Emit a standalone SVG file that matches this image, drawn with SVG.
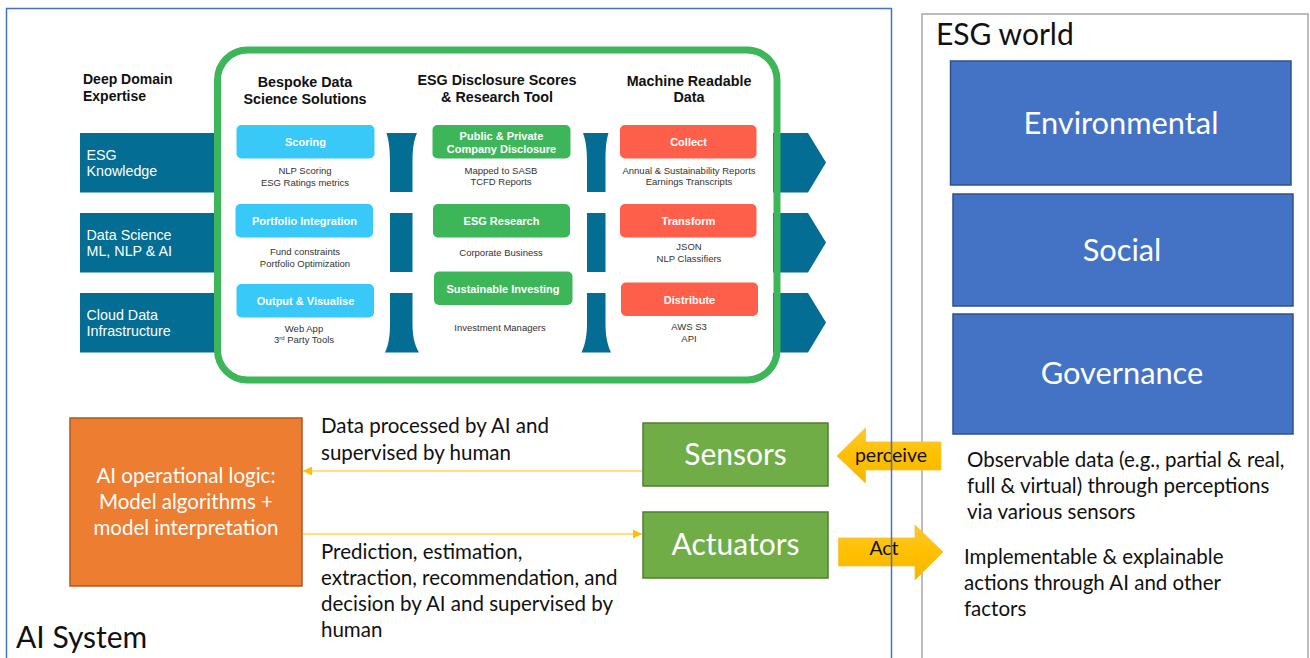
<svg xmlns="http://www.w3.org/2000/svg" width="1310" height="658" viewBox="0 0 1310 658">
<style>
.c{font-family:Lato,"Open Sans",sans-serif}
.a{font-family:"Liberation Sans",Arial,sans-serif}
.hd{font-size:14.3px;font-weight:bold;fill:#111;text-anchor:middle}
.bt{font-size:11px;font-weight:bold;fill:#fff;text-anchor:middle}
.st{font-size:9.5px;fill:#333;text-anchor:middle}
.bl{font-size:14.3px;fill:#fff}
.band{fill:#036D93}
.cy{fill:#38C9F8}
.gr{fill:#3DB65A}
.rd{fill:#FE5F4B}
.esg{fill:#4472C4;stroke:#2F528F;stroke-width:1.5}
.esgt{font-size:30.8px;fill:#fff;text-anchor:middle}
.body{font-size:20.5px;fill:#111}
.conn{stroke:#FFC000;stroke-width:1.2;fill:none}
</style>
<defs>
<marker id="ah" viewBox="0 0 10 10" refX="10" refY="5" markerWidth="9" markerHeight="9" markerUnits="userSpaceOnUse" orient="auto">
<path d="M0,0 L10,5 L0,10 Z" fill="#FFC000"/>
</marker>
<linearGradient id="yg" x1="0" y1="0" x2="0" y2="1">
<stop offset="0" stop-color="#FFC72C"/>
<stop offset="0.5" stop-color="#FFC000"/>
<stop offset="1" stop-color="#F2B600"/>
</linearGradient>
</defs>
<rect width="1310" height="658" fill="#fff"/>

<!-- ESG world frame -->
<g id="esg-world">
<rect x="922" y="14" width="386" height="660" fill="#fff" stroke="#A6A6A6" stroke-width="1.5"/>
<text class="c" x="936" y="45" font-size="30" fill="#111">ESG world</text>
</g>
<g id="environmental">
<rect class="esg" x="950.5" y="61" width="340.5" height="124"/>
<text class="c esgt" x="1121" y="134">Environmental</text>
</g>
<g id="social">
<rect class="esg" x="953" y="194" width="340" height="112"/>
<text class="c esgt" x="1122" y="261">Social</text>
</g>
<g id="governance">
<rect class="esg" x="953" y="314" width="340" height="120"/>
<text class="c esgt" x="1122" y="384">Governance</text>
</g>
<g id="observable-text">
<text class="c body" x="967" y="467">Observable data (e.g., partial &amp; real,</text>
<text class="c body" x="967" y="493">full &amp; virtual) through perceptions</text>
<text class="c body" x="967" y="519">via various sensors</text>
</g>
<g id="implementable-text">
<text class="c body" x="964" y="564">Implementable &amp; explainable</text>
<text class="c body" x="964" y="590">actions through AI and other</text>
<text class="c body" x="964" y="616">factors</text>
</g>

<!-- Top pipeline graphic -->
<g id="domain-bands">
<rect class="band" x="80" y="133" width="140" height="59.5"/>
<rect class="band" x="80" y="213" width="140" height="59.5"/>
<rect class="band" x="80" y="293" width="140" height="59.5"/>
<text class="a" x="83" y="84" font-size="14" font-weight="bold" fill="#111">Deep Domain</text>
<text class="a" x="83" y="101" font-size="14" font-weight="bold" fill="#111">Expertise</text>
<text class="a bl" x="86.5" y="159.5">ESG</text>
<text class="a bl" x="86.5" y="176">Knowledge</text>
<text class="a bl" x="86.5" y="239.5">Data Science</text>
<text class="a bl" x="86.5" y="256">ML, NLP &amp; AI</text>
<text class="a bl" x="86.5" y="319.5">Cloud Data</text>
<text class="a bl" x="86.5" y="336">Infrastructure</text>
</g>
<g id="output-chevrons">
<path class="band" d="M773,133 H808 L826,162.5 L808,192.5 H773 Z"/>
<path class="band" d="M773,213 H808 L826,242.5 L808,272.5 H773 Z"/>
<path class="band" d="M773,293 H808 L826,322.5 L808,352.5 H773 Z"/>
</g>
<g id="connector-1">
<path class="band" d="M386.5,133 H417 C413.5,141 412.5,150 412.5,162 V192 H390 V162 C390,150 389,141 386.5,133 Z"/>
<rect class="band" x="390" y="213" width="22.5" height="59"/>
<path class="band" d="M390,293 H412.5 V323 C412.5,335 414,344 419,352.5 H385 C389,344 390,335 390,323 Z"/>
</g>
<g id="connector-2">
<path class="band" d="M583,133 H608.5 C606,141 605.5,150 605.5,162 V192 H587 V162 C587,150 586,141 583,133 Z"/>
<rect class="band" x="587" y="213" width="18.5" height="59"/>
<path class="band" d="M587,293 H605.5 V323 C605.5,335 607,344 611,352.5 H581.5 C585.5,344 587,335 587,323 Z"/>
</g>
<g id="green-frame">
<rect x="217.5" y="50" width="559.5" height="330" rx="30" fill="none" stroke="#3DB65A" stroke-width="7"/>
</g>
<g id="col-bespoke">
<text class="a hd" x="305" y="87">Bespoke Data</text>
<text class="a hd" x="305" y="103.5">Science Solutions</text>
</g>
<g id="col-disclosure">
<text class="a hd" x="497" y="85">ESG Disclosure Scores</text>
<text class="a hd" x="497" y="101.5">&amp; Research Tool</text>
</g>
<g id="col-machine">
<text class="a hd" x="689" y="85.5">Machine Readable</text>
<text class="a hd" x="689" y="102">Data</text>
</g>
<g id="scoring">
<rect class="cy" x="236.5" y="125" width="138" height="33.5" rx="5"/>
<text class="a bt" x="305.5" y="146">Scoring</text>
<text class="a st" x="305" y="174">NLP Scoring</text>
<text class="a st" x="305" y="185.5">ESG Ratings metrics</text>
</g>
<g id="portfolio-integration">
<rect class="cy" x="235.5" y="204" width="137.5" height="33.5" rx="5"/>
<text class="a bt" x="304.5" y="225">Portfolio Integration</text>
<text class="a st" x="305" y="255">Fund constraints</text>
<text class="a st" x="305" y="266.5">Portfolio Optimization</text>
</g>
<g id="output-visualise">
<rect class="cy" x="236.5" y="284" width="137.5" height="33.5" rx="5"/>
<text class="a bt" x="305.5" y="305">Output &amp; Visualise</text>
<text class="a st" x="304" y="331.5">Web App</text>
<text class="a st" x="304" y="343">3<tspan font-size="6" dy="-3.5">rd</tspan><tspan dy="3.5"> Party Tools</tspan></text>
</g>
<g id="public-private">
<rect class="gr" x="432.5" y="125" width="138" height="33.5" rx="5"/>
<text class="a bt" x="501.5" y="139.5">Public &amp; Private</text>
<text class="a bt" x="501.5" y="152.5">Company Disclosure</text>
<text class="a st" x="501" y="173.5">Mapped to SASB</text>
<text class="a st" x="501" y="185">TCFD Reports</text>
</g>
<g id="esg-research">
<rect class="gr" x="433" y="204" width="137" height="33.5" rx="5"/>
<text class="a bt" x="501.5" y="225">ESG Research</text>
<text class="a st" x="501" y="256">Corporate Business</text>
</g>
<g id="sustainable-investing">
<rect class="gr" x="434" y="271.5" width="138.5" height="33.5" rx="5"/>
<text class="a bt" x="503" y="292.5">Sustainable Investing</text>
<text class="a st" x="500" y="331">Investment Managers</text>
</g>
<g id="collect">
<rect class="rd" x="620" y="125" width="136.5" height="33.5" rx="5"/>
<text class="a bt" x="688.5" y="146">Collect</text>
<text class="a st" x="689" y="173.5">Annual &amp; Sustainability Reports</text>
<text class="a st" x="689" y="185">Earnings Transcripts</text>
</g>
<g id="transform">
<rect class="rd" x="620" y="204" width="136.5" height="33.5" rx="5"/>
<text class="a bt" x="688.5" y="225">Transform</text>
<text class="a st" x="689" y="250">JSON</text>
<text class="a st" x="689" y="261.5">NLP Classifiers</text>
</g>
<g id="distribute">
<rect class="rd" x="621" y="282.5" width="137" height="33.5" rx="5"/>
<text class="a bt" x="689.5" y="303.5">Distribute</text>
<text class="a st" x="689" y="330">AWS S3</text>
<text class="a st" x="689" y="341.5">API</text>
</g>

<!-- Lower AI system part -->
<g id="ai-logic">
<rect x="70" y="418" width="232" height="168" fill="#ED7D31" stroke="#AE5A21" stroke-width="1.5"/>
<text class="c" x="186" y="483" font-size="20.5" fill="#fff" text-anchor="middle">AI operational logic:</text>
<text class="c" x="186" y="509" font-size="20.5" fill="#fff" text-anchor="middle">Model algorithms +</text>
<text class="c" x="186" y="535" font-size="20.5" fill="#fff" text-anchor="middle">model interpretation</text>
</g>
<g id="sensors">
<rect x="643" y="423" width="185" height="63" fill="#70AD47" stroke="#507E32" stroke-width="1.5"/>
<text class="c" x="735.5" y="465" font-size="30" fill="#fff" text-anchor="middle">Sensors</text>
</g>
<g id="actuators">
<rect x="643" y="512" width="185" height="66" fill="#70AD47" stroke="#507E32" stroke-width="1.5"/>
<text class="c" x="735.5" y="555" font-size="30" fill="#fff" text-anchor="middle">Actuators</text>
</g>
<g id="connectors">
<line class="conn" x1="642" y1="471" x2="303" y2="471" marker-end="url(#ah)"/>
<line class="conn" x1="303" y1="534" x2="642" y2="534" marker-end="url(#ah)"/>
<path id="perceive-arrow" d="M941,442 H865.5 V428 L837,456 L865.5,483 V470 H941 Z" fill="url(#yg)" stroke="#F5C242" stroke-width="0.8"/>
<path id="act-arrow" d="M838.5,538 H915 V525 L943,552 L915,580 V566 H838.5 Z" fill="url(#yg)" stroke="#F5C242" stroke-width="0.8"/>
</g>
<g id="labels">
<text class="c body" x="321" y="433">Data processed by AI and</text>
<text class="c body" x="321" y="460">supervised by human</text>
<text class="c body" x="321" y="559">Prediction, estimation,</text>
<text class="c body" x="321" y="585">extraction, recommendation, and</text>
<text class="c body" x="321" y="611">decision by AI and supervised by</text>
<text class="c body" x="321" y="637">human</text>
<text class="c" x="891" y="462" font-size="19.5" fill="#111" text-anchor="middle">perceive</text>
<text class="c" x="884" y="555" font-size="19.5" fill="#111" text-anchor="middle">Act</text>
</g>
<g id="ai-system">
<rect x="6.5" y="8.5" width="885" height="670" fill="none" stroke="#4472C4" stroke-width="1.5"/>
<text class="c" x="16" y="648" font-size="30" fill="#111">AI System</text>
</g>
</svg>
